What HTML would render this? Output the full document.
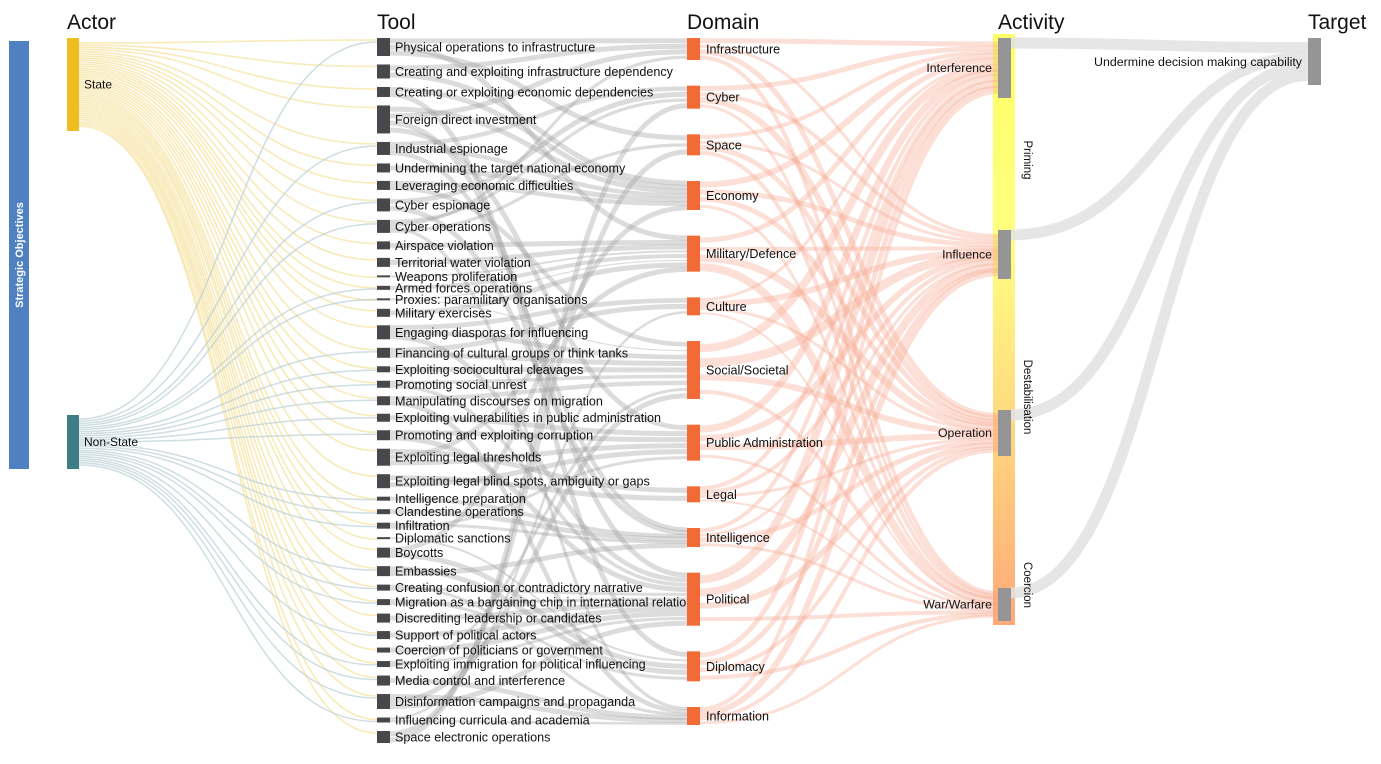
<!DOCTYPE html>
<html><head><meta charset="utf-8">
<style>
html,body{margin:0;padding:0;background:#fff;}
body{width:1381px;height:759px;overflow:hidden;font-family:"Liberation Sans",Arial,sans-serif;}
svg text{font-family:"Liberation Sans",Arial,sans-serif;}
</style></head>
<body>
<svg id="chart" width="1381" height="759" viewBox="0 0 1381 759" xmlns="http://www.w3.org/2000/svg">
<defs>
<linearGradient id="actGrad" x1="0" y1="0" x2="0" y2="1">
<stop offset="0" stop-color="#ffff66"/><stop offset="0.35" stop-color="#ffff80"/><stop offset="0.6" stop-color="#ffe080"/><stop offset="1" stop-color="#ffa878"/>
</linearGradient>
</defs>
<rect x="9" y="41" width="20" height="428" fill="#4f81c0"/>
<text transform="translate(23,255) rotate(-90)" text-anchor="middle" font-size="11" font-weight="bold" fill="#fff">Strategic Objectives</text>
<text x="67" y="29" font-size="21" fill="#111">Actor</text>
<text x="377" y="29" font-size="21" fill="#111">Tool</text>
<text x="687" y="29" font-size="21" fill="#111">Domain</text>
<text x="998" y="29" font-size="21" fill="#111">Activity</text>
<text x="1308" y="29" font-size="21" fill="#111">Target</text>
<rect x="993" y="34" width="22" height="591" fill="url(#actGrad)"/>
<g id="links"></g>
<g id="nodes"></g>
</svg>
<script>
const toolNames=["Physical operations to infrastructure","Creating and exploiting infrastructure dependency","Creating or exploiting economic dependencies","Foreign direct investment","Industrial espionage","Undermining the target national economy","Leveraging economic difficulties","Cyber espionage","Cyber operations","Airspace violation","Territorial water violation","Weapons proliferation","Armed forces operations","Proxies: paramilitary organisations","Military exercises","Engaging diasporas for influencing","Financing of cultural groups or think tanks","Exploiting sociocultural cleavages","Promoting social unrest","Manipulating discourses on migration","Exploiting vulnerabilities in public administration","Promoting and exploiting corruption","Exploiting legal thresholds","Exploiting legal blind spots, ambiguity or gaps","Intelligence preparation","Clandestine operations","Infiltration","Diplomatic sanctions","Boycotts","Embassies","Creating confusion or contradictory narrative","Migration as a bargaining chip in international relations","Discrediting leadership or candidates","Support of political actors","Coercion of politicians or government","Exploiting immigration for political influencing","Media control and interference","Disinformation campaigns and propaganda","Influencing curricula and academia","Space electronic operations"];
const toolValues=[18,14,10,28,13,9,9,13,13,8,9,2,4,2,8,14,10,6,7,9,8,10,17,14,4,5,6,2,10,10,6,6,9,8,5,6,10,15,5,12];
const toolDomains=[[0,4,2],[0,3],[3,11],[3,0,10,7],[1,3,9],[3],[3,6],[1,9],[1,0,12,2],[4],[4],[4],[4],[4,6],[4],[5,6,10],[5,6],[6],[6,10],[6,12],[7],[7,10],[8,4,7],[8,7],[9],[9],[9,7],[11],[3,11],[11,9],[12,10],[11,10],[10],[10],[10],[10,6],[12],[12,6,10],[5,12],[2,1]];
const nonStateTools=[0,4,7,8,12,13,16,17,18,19,20,21,24,25,26,29,30,31,33,35,36,37,38];
const domainNames=["Infrastructure","Cyber","Space","Economy","Military/Defence","Culture","Social/Societal","Public Administration","Legal","Intelligence","Political","Diplomacy","Information"];
const domainValues=[22,23,21,29,36,18,58,36,16,19,53,30,18];
const activityNames=["Interference","Influence","Operation","War/Warfare"];
const activityValues=[60,49,46,33];
const domainActivity=[[5,3,5,4],[5,4,6,3],[4,3,5,4],[6,5,5,3],[5,4,7,8],[3,6,3,2],[8,9,6,4],[7,6,6,3],[4,4,3,2],[4,3,5,3],[8,8,6,4],[5,5,4,4],[4,6,4,3]];
const actorNames=["State","Non-State"];
const actorValues=[93,54];
const targetName="Undermine decision making capability";
const targetValue=47;

const NS="http://www.w3.org/2000/svg";
const links=document.getElementById('links'),nodes=document.getElementById('nodes');
function mk(t,a,p){const e=document.createElementNS(NS,t);for(const k in a)e.setAttribute(k,a[k]);(p||nodes).appendChild(e);return e;}
function curve(x0,y0,x1,y1){const m=(x0+x1)/2;return `M${x0},${y0}C${m},${y0} ${m},${y1} ${x1},${y1}`;}
function layout(vals,top,bottom){const sum=vals.reduce((a,b)=>a+b,0);const gap=(bottom-top-sum)/(vals.length-1);let y=top;return vals.map(v=>{const r={y:y,h:v};y+=v+gap;return r;});}

const X={actor:67,tool:377,domain:687,act:998,target:1308};
const tools=layout(toolValues,38,743);
const doms=layout(domainValues,38,725);
const acts=[{y:38,h:activityValues[0]},{y:230,h:activityValues[1]},{y:410,h:activityValues[2]},{y:588,h:activityValues[3]}];
const actors=[{y:38,h:actorValues[0]},{y:415,h:actorValues[1]}];
const target={y:38,h:targetValue};

tools.forEach((t,i)=>{
  const y0=actors[0].y+4+(i+0.5)/tools.length*(actors[0].h-8);
  const p=mk('path',{d:curve(X.actor+12,y0,X.tool,t.y+2),fill:'none',stroke:'#f3dc8a','stroke-width':1.6,'stroke-opacity':0.6},links);
  
  
});
nonStateTools.forEach((ti,j)=>{
  const t=tools[ti];
  const y0=actors[1].y+3+(j+0.5)/nonStateTools.length*(actors[1].h-6);
  const p=mk('path',{d:curve(X.actor+12,y0,X.tool,t.y+Math.min(t.h-1,4)),fill:'none',stroke:'#b9d0d6','stroke-width':1.5,'stroke-opacity':0.7},links);
  
  
});
const domIn=domainNames.map(()=>[]);
toolDomains.forEach((ds,i)=>ds.forEach((d,k)=>domIn[d].push({t:i,k:k,n:ds.length})));
domIn.forEach((arr,d)=>{
  arr.forEach((l,j)=>{
    const t=tools[l.t];const w=Math.max(1.2,t.h/l.n);
    const y0=t.y+(l.k+0.5)*t.h/l.n;
    const y1=doms[d].y+(j+0.5)*doms[d].h/arr.length;
    const p=mk('path',{d:curve(X.tool+12,y0,X.domain,y1),fill:'none',stroke:'#9a9a9a','stroke-width':Math.min(w,5),'stroke-opacity':0.35},links);
    
    
  });
});
domainActivity.forEach((row,d)=>row.forEach((v,a)=>{
  const dn=doms[d];const y0=dn.y+(a+0.5)*dn.h/4;
  const y1=acts[a].y+4+(d+0.5)/domainNames.length*(acts[a].h-8);
  const p=mk('path',{d:curve(X.domain+12,y0,X.act,y1),fill:'none',stroke:'#f7a590','stroke-width':v,'stroke-opacity':0.35},links);
  
  
}));
acts.forEach((a,i)=>{
  const y1=target.y+5+(i+0.5)/4*(target.h-10);
  const p=mk('path',{d:curve(X.act+12,a.y+5,X.target,y1),fill:'none',stroke:'#e2e2e2','stroke-width':11,'stroke-opacity':0.85},links);
  
  
});

const actorColors=["#f0bd1e","#3d7d85"];
actors.forEach((n,i)=>{
  const r=mk('rect',{x:X.actor,y:n.y,width:12,height:n.h,fill:actorColors[i]});
  
  
  const t=mk('text',{x:X.actor+17,y:n.y+n.h/2+4,'font-size':12,fill:'#111'});t.textContent=actorNames[i];
  
  
});
tools.forEach((n,i)=>{
  const r=mk('rect',{x:X.tool,y:n.y,width:13,height:Math.max(n.h,2),fill:'#48484c'});
  
  
  const t=mk('text',{x:X.tool+18,y:n.y+n.h/2+4.5,'font-size':12.6,fill:'#111'});t.textContent=toolNames[i];
  
  
});
doms.forEach((n,i)=>{
  const r=mk('rect',{x:X.domain,y:n.y,width:13,height:n.h,fill:'#f26a36'});
  
  
  const t=mk('text',{x:X.domain+19,y:n.y+n.h/2+4.5,'font-size':12.6,fill:'#111'});t.textContent=domainNames[i];
  
  
});
acts.forEach((n,i)=>{
  const r=mk('rect',{x:X.act,y:n.y,width:13,height:n.h,fill:'#959595'});
  
  
  const t=mk('text',{x:X.act-6,y:n.y+n.h/2+4,'font-size':12.3,fill:'#111','text-anchor':'end'});t.textContent=activityNames[i];
  
  
});
[["Priming",160],["Destabilisation",397],["Coercion",585]].forEach(p=>{
  const t=mk('text',{transform:`translate(1024,${p[1]}) rotate(90)`,'font-size':11.5,fill:'#111','text-anchor':'middle'});t.textContent=p[0];
  
  
});
const tr=mk('rect',{x:X.target,y:target.y,width:13,height:target.h,fill:'#959595'});


const tt=mk('text',{x:X.target-6,y:66,'font-size':12.4,fill:'#111','text-anchor':'end'});tt.textContent=targetName;


</script>
</body></html>
